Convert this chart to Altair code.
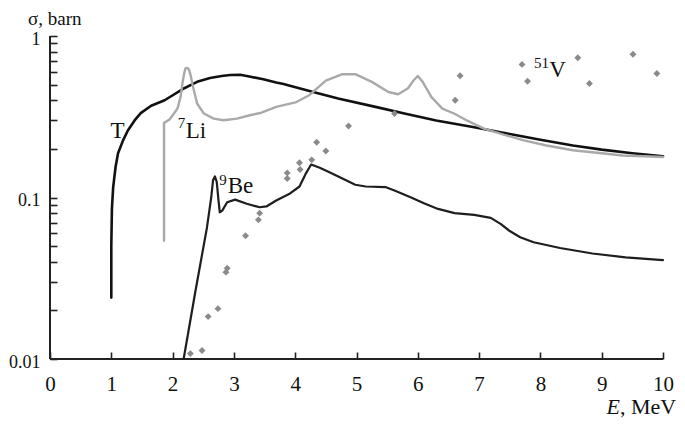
import altair as alt
import pandas as pd

# ---- data ----
T_E = [1.0, 1.0, 1.01, 1.03, 1.07, 1.11, 1.19, 1.27, 1.38, 1.48, 1.65, 1.87, 2.19, 2.4, 2.61, 2.8,
       2.94, 3.1, 3.21, 3.48, 3.69, 3.81, 4.02, 4.34, 4.7, 5.31, 5.8, 6.3, 6.92, 7.5, 8.0, 8.53,
       9.0, 9.5, 10.0]
T_S = [0.024, 0.05, 0.085, 0.115, 0.155, 0.188, 0.225, 0.26, 0.30, 0.333, 0.37, 0.40, 0.475, 0.52,
       0.55, 0.565, 0.573, 0.575, 0.565, 0.54, 0.515, 0.505, 0.48, 0.445, 0.41, 0.364, 0.33, 0.30,
       0.272, 0.247, 0.228, 0.21, 0.198, 0.188, 0.18]

LI_E = [1.86, 1.86, 1.89, 1.95, 2.02, 2.08, 2.13, 2.16, 2.19, 2.21, 2.24, 2.27, 2.30, 2.32, 2.36,
        2.40, 2.51, 2.67, 2.83, 3.05, 3.26, 3.45, 3.69, 4.02, 4.23, 4.5, 4.77, 4.98, 5.25, 5.52,
        5.68, 5.84, 5.93, 6.0, 6.08, 6.22, 6.4, 6.6, 6.8, 7.08, 7.4, 7.73, 8.1, 8.53, 9.0, 9.34,
        9.7, 10.0]
LI_S = [0.054, 0.29, 0.294, 0.304, 0.33, 0.356, 0.42, 0.508, 0.59, 0.63, 0.635, 0.615, 0.56, 0.508,
        0.44, 0.382, 0.331, 0.308, 0.301, 0.308, 0.323, 0.335, 0.364, 0.39, 0.43, 0.53, 0.58, 0.58,
        0.52, 0.45, 0.436, 0.475, 0.53, 0.565, 0.52, 0.42, 0.355, 0.33, 0.30, 0.267, 0.245, 0.226,
        0.21, 0.196, 0.188, 0.182, 0.18, 0.178]

BE_E = [2.18, 2.37, 2.56, 2.63, 2.66, 2.69, 2.72, 2.75, 2.77, 2.81, 2.89, 3.02, 3.21, 3.42, 3.53,
        3.69, 3.9, 4.07, 4.17, 4.26, 4.4, 4.55, 4.77, 4.98, 5.15, 5.47, 5.63, 5.9, 6.1, 6.33, 6.6,
        6.92, 7.19, 7.35, 7.5, 7.67, 7.89, 8.32, 8.85, 9.39, 10.0]
BE_S = [0.01, 0.026, 0.065, 0.1, 0.128, 0.135, 0.125, 0.095, 0.081, 0.083, 0.0935, 0.097, 0.0914,
        0.087, 0.088, 0.0958, 0.105, 0.117, 0.14, 0.16, 0.153, 0.144, 0.131, 0.12, 0.117, 0.116,
        0.110, 0.0995, 0.092, 0.085, 0.080, 0.078, 0.0748, 0.0687, 0.062, 0.0567, 0.0528, 0.0487,
        0.045, 0.0426, 0.041]

V_E = [2.29, 2.48, 2.58, 2.74, 2.87, 2.89, 3.19, 3.40, 3.42, 3.87, 3.87, 4.07, 4.08, 4.27, 4.35,
       4.5, 4.87, 5.62, 6.61, 6.69, 7.70, 7.79, 8.61, 8.80, 9.51, 9.90]
V_S = [0.0108, 0.0113, 0.0183, 0.0205, 0.0345, 0.0365, 0.058, 0.0727, 0.080, 0.131, 0.142, 0.164,
       0.149, 0.171, 0.22, 0.194, 0.277, 0.331, 0.40, 0.567, 0.667, 0.525, 0.733, 0.508, 0.77, 0.586]

X_TICKS = [0, 1, 2, 3, 4, 5, 6, 7, 8, 9, 10]
Y_TICKS = [0.01, 0.02, 0.03, 0.04, 0.05, 0.06, 0.07, 0.08, 0.09,
           0.1, 0.2, 0.3, 0.4, 0.5, 0.6, 0.7, 0.8, 0.9, 1]

SERIES = ["T", "7Li", "9Be"]
COLORS = ["#111111", "#a9a9a9", "#1e1e1e"]
WIDTHS = [2.6, 2.2, 2.2]

# labels: text, E, sigma, align, size
LAB_TEXT = ["T", "Li", "Be", "V", "7", "9", "51"]
LAB_E = [1.10, 2.215, 2.90, 8.145, 2.205, 2.885, 8.14]
LAB_S = [0.233, 0.233, 0.107, 0.556, 0.268, 0.12, 0.633]
LAB_ALIGN = ["center", "left", "left", "left", "right", "right", "right"]
LAB_SIZE = [23, 23, 23, 23, 15, 15, 15]

FONT = "Liberation Serif"

rows = []
for name, es, ss in [("T", T_E, T_S), ("7Li", LI_E, LI_S), ("9Be", BE_E, BE_S)]:
    for i, (e, s) in enumerate(zip(es, ss)):
        rows.append({"series": name, "E": e, "S": s, "i": i})
lines_df = pd.DataFrame(rows)
pts_df = pd.DataFrame({"E": V_E, "S": V_S})
lab_df = pd.DataFrame({"t": LAB_TEXT, "E": LAB_E, "S": LAB_S, "a": LAB_ALIGN, "fs": LAB_SIZE})

xscale = alt.Scale(domain=[0, 10], nice=False, zero=False)
yscale = alt.Scale(type="log", domain=[0.01, 1], nice=False)

xaxis = alt.Axis(values=X_TICKS, tickSize=7, offset=-7, domain=False, grid=False,
                 tickColor="#222", tickWidth=1.6, labelFont=FONT, labelFontSize=21,
                 labelColor="#111", labelPadding=14, title=None, labelFlush=False, format="d")
yaxis = alt.Axis(values=Y_TICKS, tickSize=7, offset=-7, domain=False, grid=False,
                 tickColor="#222", tickWidth=1.6, labelFont=FONT, labelFontSize=18,
                 labelColor="#111", labelPadding=10, title=None, format="~g", labelOffset=3,
                 labelExpr="(datum.value == 1 || datum.value == 0.1 || datum.value == 0.01) ? datum.label : ''")

lines = alt.Chart(lines_df).mark_line(strokeJoin="round", strokeCap="round").encode(
    x=alt.X("E:Q", scale=xscale, axis=xaxis),
    y=alt.Y("S:Q", scale=yscale, axis=yaxis),
    color=alt.Color("series:N", scale=alt.Scale(domain=SERIES, range=COLORS), legend=None),
    strokeWidth=alt.StrokeWidth("series:N", scale=alt.Scale(domain=SERIES, range=WIDTHS), legend=None),
    detail="series:N",
    order="i:Q",
)

points = alt.Chart(pts_df).mark_point(shape="diamond", filled=True, size=48, color="#8a8a8a",
                                      opacity=1).encode(
    x=alt.X("E:Q", scale=xscale),
    y=alt.Y("S:Q", scale=yscale),
)

xdomain = alt.Chart(pd.DataFrame({"x": [0], "x2": [10], "y": [0.01]})).mark_rule(
    color="#222", strokeWidth=2).encode(x="x:Q", x2="x2:Q", y="y:Q")
ydomain = alt.Chart(pd.DataFrame({"x": [0], "y": [0.01], "y2": [1]})).mark_rule(
    color="#222", strokeWidth=2).encode(x="x:Q", y="y:Q", y2="y2:Q")

labels = []
for a in ["center", "left", "right"]:
    sub = lab_df[lab_df["a"] == a]
    for fs in sorted(set(sub["fs"])):
        d = sub[sub["fs"] == fs]
        labels.append(alt.Chart(d).mark_text(font=FONT, fontSize=int(fs), align=a,
                                             baseline="alphabetic", color="#111").encode(
            x=alt.X("E:Q", scale=xscale), y=alt.Y("S:Q", scale=yscale), text="t:N"))

ytitle = alt.Chart(pd.DataFrame({"t": ["σ, barn"]})).mark_text(
    font=FONT, fontSize=19, align="left", baseline="alphabetic", color="#111").encode(
    x=alt.value(-22), y=alt.value(-11), text="t:N")
xtitle_e = alt.Chart(pd.DataFrame({"t": ["E"]})).mark_text(
    font=FONT, fontSize=22, fontStyle="italic", align="right", baseline="alphabetic",
    color="#111").encode(x=alt.value(570), y=alt.value(378), text="t:N")
xtitle_u = alt.Chart(pd.DataFrame({"t": [", MeV"]})).mark_text(
    font=FONT, fontSize=22, align="left", baseline="alphabetic", color="#111").encode(
    x=alt.value(570), y=alt.value(378), text="t:N")

chart = alt.layer(xdomain, ydomain, lines, points, *labels, ytitle, xtitle_e, xtitle_u).properties(
    width=613, height=323,
    autosize=alt.AutoSizeParams(type="none"),
    padding={"left": 42, "top": 28, "right": 14, "bottom": 59},
    background="white",
).configure_view(stroke=None)

chart.save("out.html", embed_options={"renderer": "svg", "actions": False})
